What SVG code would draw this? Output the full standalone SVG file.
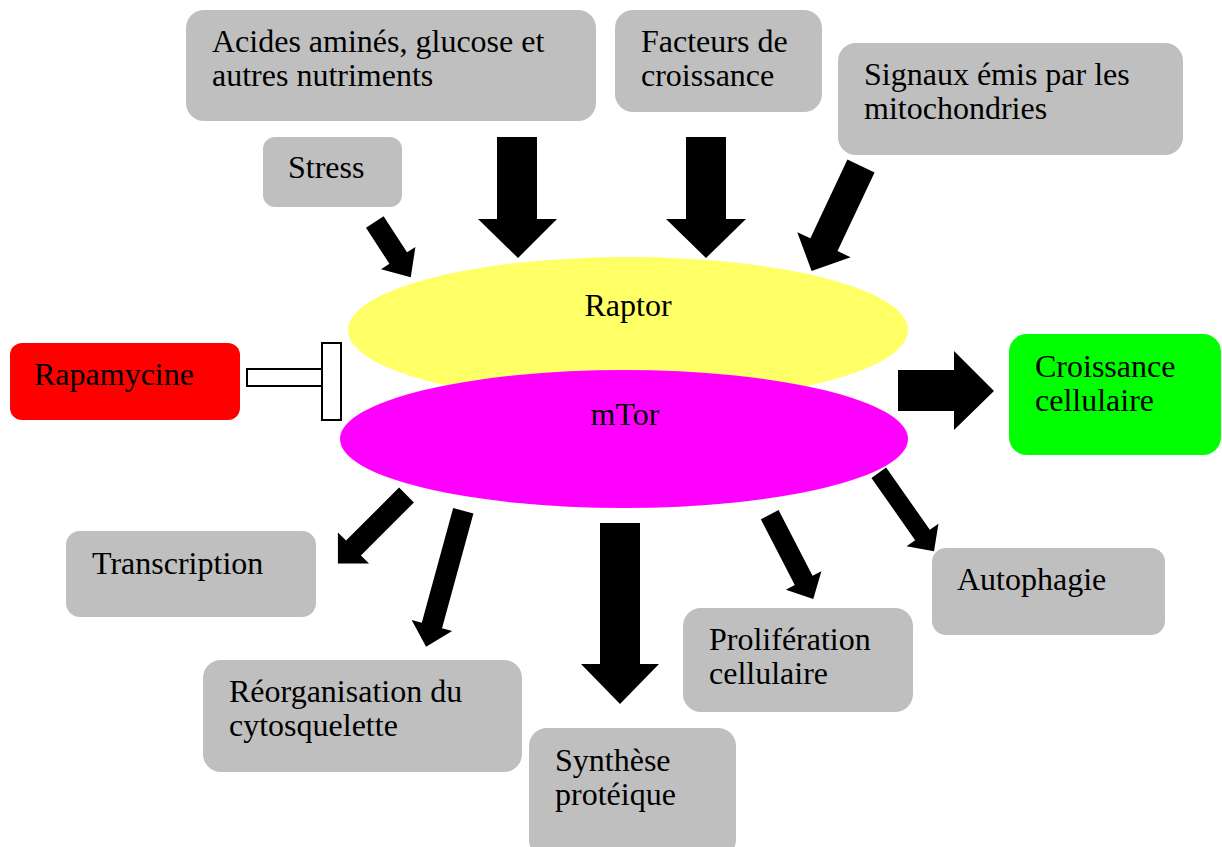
<svg xmlns="http://www.w3.org/2000/svg" width="1222" height="847" viewBox="0 0 1222 847">
<style>
.box{fill:#BFBFBF}
.t{font-family:"Liberation Serif","Times New Roman",serif;font-size:32px;fill:#000}
.arr{fill:#000}
</style>
<rect width="1222" height="847" fill="#fff"/>
<g id="raptor"><ellipse cx="628" cy="330" rx="280" ry="73" fill="#FFFF66"/><text class="t" x="628" y="316" text-anchor="middle">Raptor</text></g>
<g id="mtor"><ellipse cx="624" cy="439" rx="284" ry="69" fill="#FF00FF"/><text class="t" x="625" y="425" text-anchor="middle">mTor</text></g>
<g id="acides"><rect class="box" x="186" y="10" width="410" height="111" rx="18"/><text class="t" x="212" y="52">Acides aminés, glucose et</text><text class="t" x="212" y="86">autres nutriments</text></g>
<g id="facteurs"><rect class="box" x="615" y="10" width="207" height="102" rx="18"/><text class="t" x="641" y="52">Facteurs de</text><text class="t" x="641" y="86">croissance</text></g>
<g id="signaux"><rect class="box" x="838" y="43" width="345" height="112" rx="18"/><text class="t" x="864" y="85">Signaux émis par les</text><text class="t" x="864" y="119">mitochondries</text></g>
<g id="stress"><rect class="box" x="263" y="137" width="139" height="70" rx="12"/><text class="t" x="288" y="178">Stress</text></g>
<g id="rapamycine"><rect x="10" y="343" width="230" height="77" rx="12" fill="#FF0000"/><text class="t" x="34" y="385">Rapamycine</text></g>
<g id="croissance"><rect x="1009" y="334" width="212" height="121" rx="18" fill="#00FF00"/><text class="t" x="1035" y="377">Croissance</text><text class="t" x="1035" y="411">cellulaire</text></g>
<g id="transcription"><rect class="box" x="66" y="531" width="250" height="86" rx="14"/><text class="t" x="92" y="574">Transcription</text></g>
<g id="reorganisation"><rect class="box" x="203" y="660" width="319" height="112" rx="18"/><text class="t" x="229" y="702">Réorganisation du</text><text class="t" x="229" y="736">cytosquelette</text></g>
<g id="synthese"><rect class="box" x="529" y="728" width="207" height="130" rx="18"/><text class="t" x="555" y="771">Synthèse</text><text class="t" x="555" y="805">protéique</text></g>
<g id="proliferation"><rect class="box" x="683" y="608" width="230" height="104" rx="18"/><text class="t" x="709" y="650">Prolifération</text><text class="t" x="709" y="684">cellulaire</text></g>
<g id="autophagie"><rect class="box" x="932" y="548" width="233" height="87" rx="14"/><text class="t" x="957" y="590">Autophagie</text></g>
<g id="connectors">
<polygon class="arr" points="497,137 537,137 537,219 557,219 518,258 478,219 497,219"/>
<polygon class="arr" points="686,137 726,137 726,219 746,219 706,258 666,219 686,219"/>
<path class="arr" transform="translate(374.8,222) rotate(-33)" d="M-10.5 0H10.5V43H20.5L0 66L-20.5 43H-10.5Z"/>
<path class="arr" transform="translate(861,166) rotate(25.2)" d="M-15 0H15V87H29.5L0 116L-29.5 87H-15Z"/>
<polygon class="arr" points="898,370 954,370 954,351 994,391 954,430 954,411 898,411"/>
<path class="arr" transform="translate(406.5,495) rotate(45)" d="M-10.5 0H10.5V75H22L0 97L-22 75H-10.5Z"/>
<path class="arr" transform="translate(463.3,510.8) rotate(15.3)" d="M-10.5 0H10.5V119H21L0 141L-21 119H-10.5Z"/>
<polygon class="arr" points="600,523 640,523 640,664 659,664 620,704 581,664 600,664"/>
<path class="arr" transform="translate(769.7,514.7) rotate(-27.3)" d="M-10 0H10V74H20L0 95L-20 74H-10Z"/>
<path class="arr" transform="translate(878.8,472.8) rotate(-35.1)" d="M-9 0H9V76H19.5L0 96L-19.5 76H-9Z"/>
<g id="inhibition" fill="#fff" stroke="#000" stroke-width="2">
<rect x="247" y="369" width="75" height="17"/>
<rect x="322" y="343" width="19" height="77"/>
</g>
</g>
</svg>
